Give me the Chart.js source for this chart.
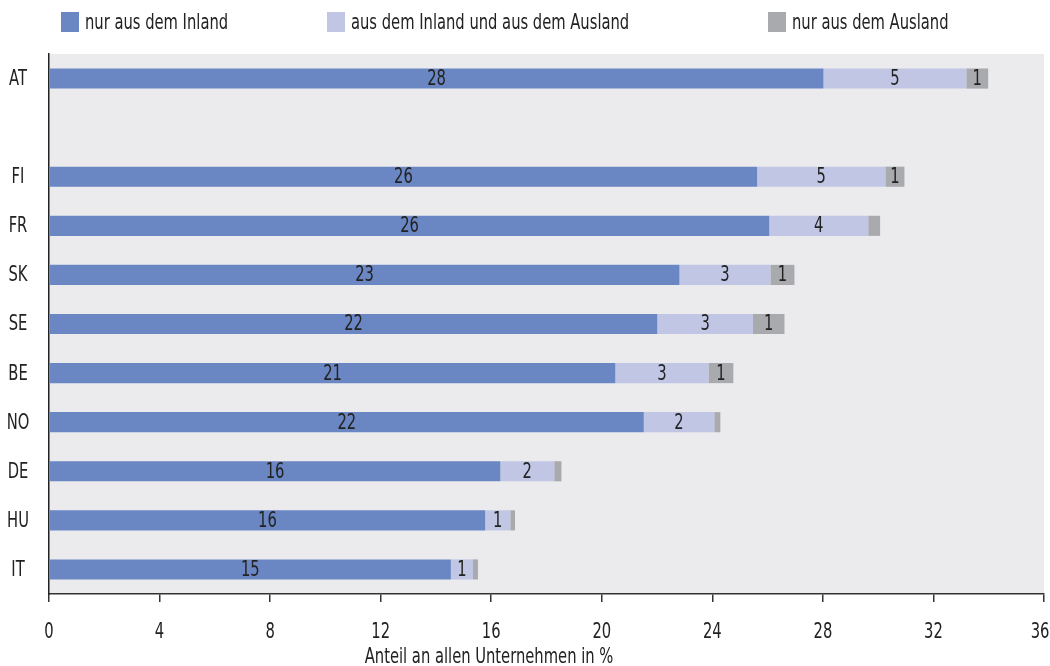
<!DOCTYPE html>
<html>
<head>
<meta charset="utf-8">
<script src="https://cdn.jsdelivr.net/npm/chart.js@4.4.1/dist/chart.umd.min.js"></script>
<style>
  html, body { margin: 0; padding: 0; background: #ffffff; }
  #wrap { width: 1050px; height: 666px; position: relative; }
</style>
</head>
<body>
<div id="wrap"><canvas id="c" width="1050" height="666"></canvas></div>
<script>
const categories = ['AT', '', 'FI', 'FR', 'SK', 'SE', 'BE', 'NO', 'DE', 'HU', 'IT'];
const seriesNames = ['nur aus dem Inland', 'aus dem Inland und aus dem Ausland', 'nur aus dem Ausland'];
const inlandOnly    = [28.02, null, 25.62, 26.06, 22.81, 22.01, 20.49, 21.52, 16.33, 15.78, 14.54];
const inlandAusland = [5.17,  null, 4.64,  3.58,  3.29,  3.46,  3.37,  2.55,  1.95,  0.91,  0.80];
const auslandOnly   = [0.79,  null, 0.69,  0.43,  0.87,  1.14,  0.90,  0.22,  0.26,  0.17,  0.18];
const inlandOnlyLabels    = ['28', '', '26', '26', '23', '22', '21', '22', '16', '16', '15'];
const inlandAuslandLabels = ['5',  '', '5',  '4',  '3',  '3',  '3',  '2',  '2',  '1',  '1'];
const auslandOnlyLabels   = ['1',  '', '1',  '',   '1',  '1',  '1',  '',   '',   '',   ''];
const xTicks = [0, 4, 8, 12, 16, 20, 24, 28, 32, 36];
const axisTitle = 'Anteil an allen Unternehmen in %';

const FAMILY = '"DejaVu Sans", sans-serif';
const STRETCH = 'condensed';
const TEXT = '#222222';
const SQUEEZE = 0.78;
const colors = ['#6a86c3', '#c0c6e4', '#a9aaad'];
const labelSets = [inlandOnlyLabels, inlandAuslandLabels, auslandOnlyLabels];

function fontStr(size) { return STRETCH + ' ' + size + 'px ' + FAMILY; }

// draw text squeezed horizontally around an anchor point
function squeezedText(ctx, text, x, y, align) {
  ctx.save();
  ctx.translate(x, y);
  ctx.scale(SQUEEZE, 1);
  ctx.textAlign = align;
  ctx.fillText(text, 0, 0);
  ctx.restore();
}

const bgPlugin = {
  id: 'bg',
  beforeDraw(chart) {
    const {ctx, chartArea: a} = chart;
    ctx.save();
    ctx.fillStyle = '#ebebee';
    ctx.fillRect(a.left, a.top, a.right - a.left, a.bottom - a.top);
    ctx.restore();
  }
};

const valueLabels = {
  id: 'valueLabels',
  afterDatasetsDraw(chart) {
    const ctx = chart.ctx;
    ctx.save();
    ctx.font = fontStr(21);
    ctx.fillStyle = TEXT;
    ctx.textBaseline = 'middle';
    chart.data.datasets.forEach((ds, di) => {
      const meta = chart.getDatasetMeta(di);
      meta.data.forEach((el, i) => {
        const t = labelSets[di][i];
        if (!t || ds.data[i] == null) return;
        squeezedText(ctx, t, (el.x + el.base) / 2, el.y + 1, 'center');
      });
    });
    ctx.restore();
  }
};

const customLegend = {
  id: 'customLegend',
  afterDraw(chart) {
    const ctx = chart.ctx;
    const xs = [61, 327, 768];
    ctx.save();
    ctx.font = fontStr(21);
    ctx.textBaseline = 'middle';
    chart.data.datasets.forEach((ds, i) => {
      ctx.fillStyle = ds.backgroundColor;
      ctx.fillRect(xs[i], 12, 18, 20);
      ctx.fillStyle = TEXT;
      squeezedText(ctx, ds.label, xs[i] + 24, 24, 'left');
    });
    ctx.restore();
  }
};

const axisText = {
  id: 'axisText',
  afterDraw(chart) {
    const ctx = chart.ctx;
    const xs = chart.scales.x;
    ctx.save();
    ctx.font = fontStr(21);
    ctx.fillStyle = TEXT;
    ctx.textBaseline = 'middle';
    xTicks.forEach((v, i) => {
      const px = xs.getPixelForValue(v);
      const last = i === xTicks.length - 1;
      squeezedText(ctx, String(v), last ? Math.min(px, 1049 - 9) : px, 633, 'center');
    });
    squeezedText(ctx, axisTitle, 489, 658, 'center');
    const ys = chart.scales.y;
    categories.forEach((c, i) => {
      if (!c) return;
      squeezedText(ctx, c, 18, ys.getPixelForValue(i) + 1, 'center');
    });
    ctx.restore();
  }
};

new Chart(document.getElementById('c'), {
  type: 'bar',
  data: {
    labels: categories,
    datasets: [
      { label: seriesNames[0], data: inlandOnly, backgroundColor: colors[0] },
      { label: seriesNames[1], data: inlandAusland, backgroundColor: colors[1] },
      { label: seriesNames[2], data: auslandOnly, backgroundColor: colors[2] }
    ]
  },
  options: {
    indexAxis: 'y',
    responsive: false,
    animation: false,
    maintainAspectRatio: false,
    layout: { padding: { top: 54, right: 6, left: 0, bottom: 0 } },
    datasets: { bar: { categoryPercentage: 1.0, barPercentage: 0.41, borderWidth: 0 } },
    plugins: {
      legend: { display: false },
      tooltip: { enabled: false },
      title: { display: false }
    },
    scales: {
      x: {
        stacked: true,
        min: 0, max: 36,
        afterBuildTicks(scale) { scale.ticks = xTicks.map(v => ({ value: v })); },
        afterFit(scale) { scale.height = 72; scale.paddingLeft = 0; scale.paddingRight = 0; },
        grid: { display: true, drawOnChartArea: false, drawTicks: true, tickLength: 8, color: '#333333', lineWidth: 1.5 },
        border: { display: true, color: '#333333', width: 1.5 },
        ticks: { display: false }
      },
      y: {
        stacked: true,
        afterFit(scale) { scale.width = 49; },
        grid: { display: false, drawTicks: false },
        border: { display: true, color: '#222222', width: 1.5 },
        ticks: { display: false }
      }
    }
  },
  plugins: [bgPlugin, valueLabels, customLegend, axisText]
});
</script>
</body>
</html>
